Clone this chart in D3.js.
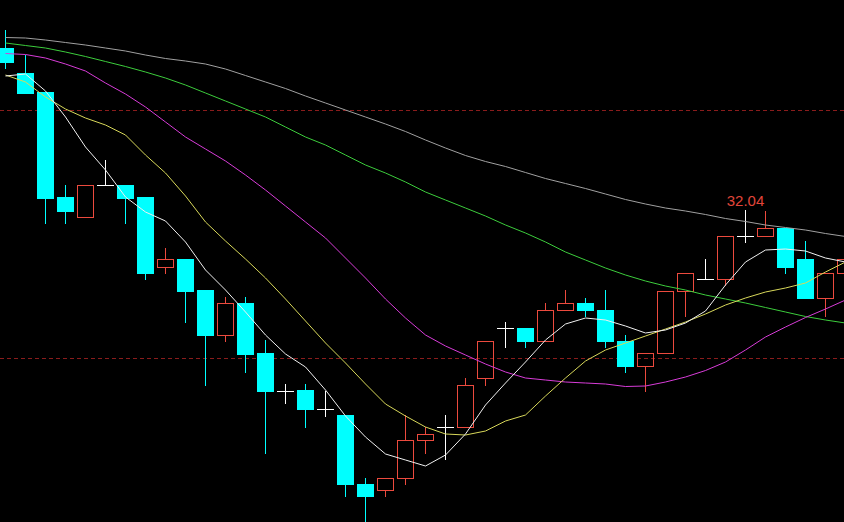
<!DOCTYPE html>
<html>
<head>
<meta charset="utf-8">
<script src="https://cdn.jsdelivr.net/npm/d3@7/dist/d3.min.js"></script>
<style>
  html, body { margin: 0; padding: 0; background: #000; overflow: hidden; }
  svg { display: block; }
</style>
</head>
<body>
<svg id="chart" width="844" height="522"></svg>
<script>
// ---- data ----
const open  = [35.27,34.79,34.41,32.30,31.91,32.54,32.54,32.30,30.90,31.06,30.44,29.54,30.17,29.17,28.43,28.44,28.07,27.94,26.57,26.45,26.69,27.45,27.70,27.69,28.69,29.67,29.67,29.43,30.05,30.17,30.05,29.43,28.93,29.17,30.43,30.67,30.67,31.53,31.53,31.67,31.06,30.29,30.79];
const high  = [35.64,35.15,34.41,32.54,32.54,33.04,32.54,32.30,31.29,31.06,30.44,30.31,30.31,29.44,28.56,28.56,28.43,27.94,26.69,26.69,27.94,27.69,27.94,28.69,29.43,29.81,29.67,30.17,30.44,30.29,30.44,29.55,29.17,30.43,30.79,31.06,31.53,32.04,32.03,31.67,31.42,30.79,31.14];
const low   = [34.89,34.39,31.79,31.79,31.91,32.54,31.79,30.67,30.79,29.81,28.54,29.43,28.81,27.19,28.19,27.69,27.93,26.33,25.80,26.33,26.57,27.19,27.07,27.69,28.55,29.31,29.31,29.43,30.05,29.93,29.31,28.81,28.43,29.17,29.93,30.67,30.54,31.41,31.53,30.79,30.29,29.93,30.79];
const close = [35.01,34.39,32.29,32.02,32.54,32.54,32.29,30.78,31.06,30.42,29.54,30.17,29.16,28.43,28.43,28.06,28.07,26.56,26.33,26.69,27.45,27.57,27.70,28.55,29.43,29.67,29.43,30.05,30.17,30.05,29.43,28.93,29.17,30.43,30.79,30.67,31.53,31.53,31.67,30.91,30.29,30.79,31.06];

const ma5   = [34.72,34.76,34.42,33.90,33.30,32.84,32.30,32.00,31.82,31.40,30.84,30.44,30.00,29.54,29.16,28.90,28.44,27.92,27.50,27.16,27.04,26.92,27.14,27.56,28.14,28.58,29.00,29.44,29.76,29.88,29.84,29.72,29.58,29.64,29.78,30.02,30.54,31.00,31.24,31.26,31.22,31.08,31.00];
const ma10  = [34.74,34.60,34.30,34.06,33.88,33.74,33.54,33.14,32.78,32.32,31.80,31.42,31.06,30.68,30.26,29.82,29.38,28.98,28.56,28.16,27.92,27.70,27.56,27.54,27.62,27.82,27.94,28.32,28.68,29.02,29.24,29.38,29.52,29.66,29.80,29.96,30.14,30.28,30.40,30.48,30.58,30.80,31.00];
const ma20  = [35.17,35.15,35.08,34.96,34.82,34.58,34.36,34.10,33.80,33.50,33.26,33.02,32.74,32.44,32.12,31.80,31.48,31.08,30.68,30.26,29.88,29.54,29.32,29.14,28.96,28.80,28.68,28.64,28.60,28.58,28.56,28.51,28.52,28.60,28.70,28.83,29.00,29.24,29.50,29.70,29.89,30.06,30.24];
const ma60  = [35.38,35.33,35.28,35.20,35.11,35.01,34.91,34.80,34.68,34.54,34.38,34.22,34.06,33.90,33.70,33.50,33.34,33.14,32.94,32.78,32.60,32.40,32.24,32.08,31.92,31.74,31.58,31.40,31.20,31.04,30.88,30.74,30.62,30.52,30.44,30.34,30.26,30.18,30.09,30.00,29.91,29.84,29.78];
const ma120 = [35.49,35.48,35.44,35.39,35.34,35.28,35.22,35.14,35.07,35.02,34.96,34.86,34.73,34.60,34.47,34.32,34.18,34.04,33.90,33.76,33.61,33.44,33.28,33.13,33.01,32.91,32.79,32.67,32.57,32.47,32.36,32.25,32.16,32.08,32.02,31.95,31.87,31.81,31.74,31.69,31.64,31.57,31.51];

const gridLevels = [34.04, 29.08];
const maxLabel = "32.04";
const maxIndex = 37;

// ---- setup ----
const W = 844, H = 522;
const svg = d3.select("#chart");
svg.append("rect").attr("width", W).attr("height", H).attr("fill", "#000");

const n = close.length;
const idx = d3.range(n);
const x = d3.scaleLinear().domain([0, n - 1]).range([5, 5 + 20 * (n - 1)]);
const y = d3.scaleLinear().domain([25.80, 36.24]).range([H, 0]);
const ry = v => Math.round(y(v));

const UP = "#ec4a3e", DOWN = "#00ffff", FLAT = "#ffffff";

// grid dashed lines
svg.selectAll("line.grid").data(gridLevels).enter().append("line")
  .attr("x1", 0).attr("x2", W)
  .attr("y1", d => ry(d) + 0.5).attr("y2", d => ry(d) + 0.5)
  .attr("stroke", "#8a1c1c").attr("stroke-width", 1)
  .attr("stroke-dasharray", "4,3")
  .attr("shape-rendering", "crispEdges");

// candles, drawn with whole-pixel filled rects
const g = svg.append("g").attr("shape-rendering", "crispEdges");
const px = (x0, y0, w, h, color) => {
  if (w <= 0 || h <= 0) return;
  g.append("rect").attr("x", x0).attr("y", y0).attr("width", w).attr("height", h).attr("fill", color);
};
idx.forEach(i => {
  const cx = x(i);
  const o = open[i], c = close[i], h = high[i], l = low[i];
  const yo = ry(o), yc = ry(c), yh = ry(h), yl = ry(l);
  if (o === c) {
    px(cx, yh, 1, yl - yh + 1, FLAT);
    px(cx - 8, yo, 17, 1, FLAT);
  } else if (c > o) {
    const top = yc, bot = yo;
    px(cx, yh, 1, top - yh, UP);            // upper wick
    px(cx, bot + 1, 1, yl - bot, UP);       // lower wick
    px(cx - 8, top, 17, 1, UP);             // top edge
    px(cx - 8, bot, 17, 1, UP);             // bottom edge
    px(cx - 8, top, 1, bot - top + 1, UP);  // left edge
    px(cx + 8, top, 1, bot - top + 1, UP);  // right edge
  } else {
    px(cx, yh, 1, yl - yh + 1, DOWN);
    px(cx - 8, yo, 17, Math.max(1, yc - yo + 1), DOWN);
  }
});

// moving averages
const mas = [
  { v: ma120, color: "#a0a0a0" },
  { v: ma60,  color: "#3ccc3c" },
  { v: ma20,  color: "#d83cd8" },
  { v: ma10,  color: "#d8d85a" },
  { v: ma5,   color: "#f0f0f0" }
];
const line = d3.line().x(d => x(d[0]) + 0.5).y(d => y(d[1]));
mas.forEach(m => {
  svg.append("path")
    .datum(idx.map(i => [i, m.v[i]]))
    .attr("d", line)
    .attr("fill", "none")
    .attr("stroke", m.color)
    .attr("stroke-width", 1);
});

// max label
svg.append("text")
  .attr("x", x(maxIndex) + 0.5)
  .attr("y", y(high[maxIndex]) - 4)
  .attr("text-anchor", "middle")
  .attr("fill", "#e0463a")
  .attr("font-family", "'Liberation Sans', Arial, sans-serif")
  .attr("font-size", 15)
  .text(maxLabel);
</script>
</body>
</html>
